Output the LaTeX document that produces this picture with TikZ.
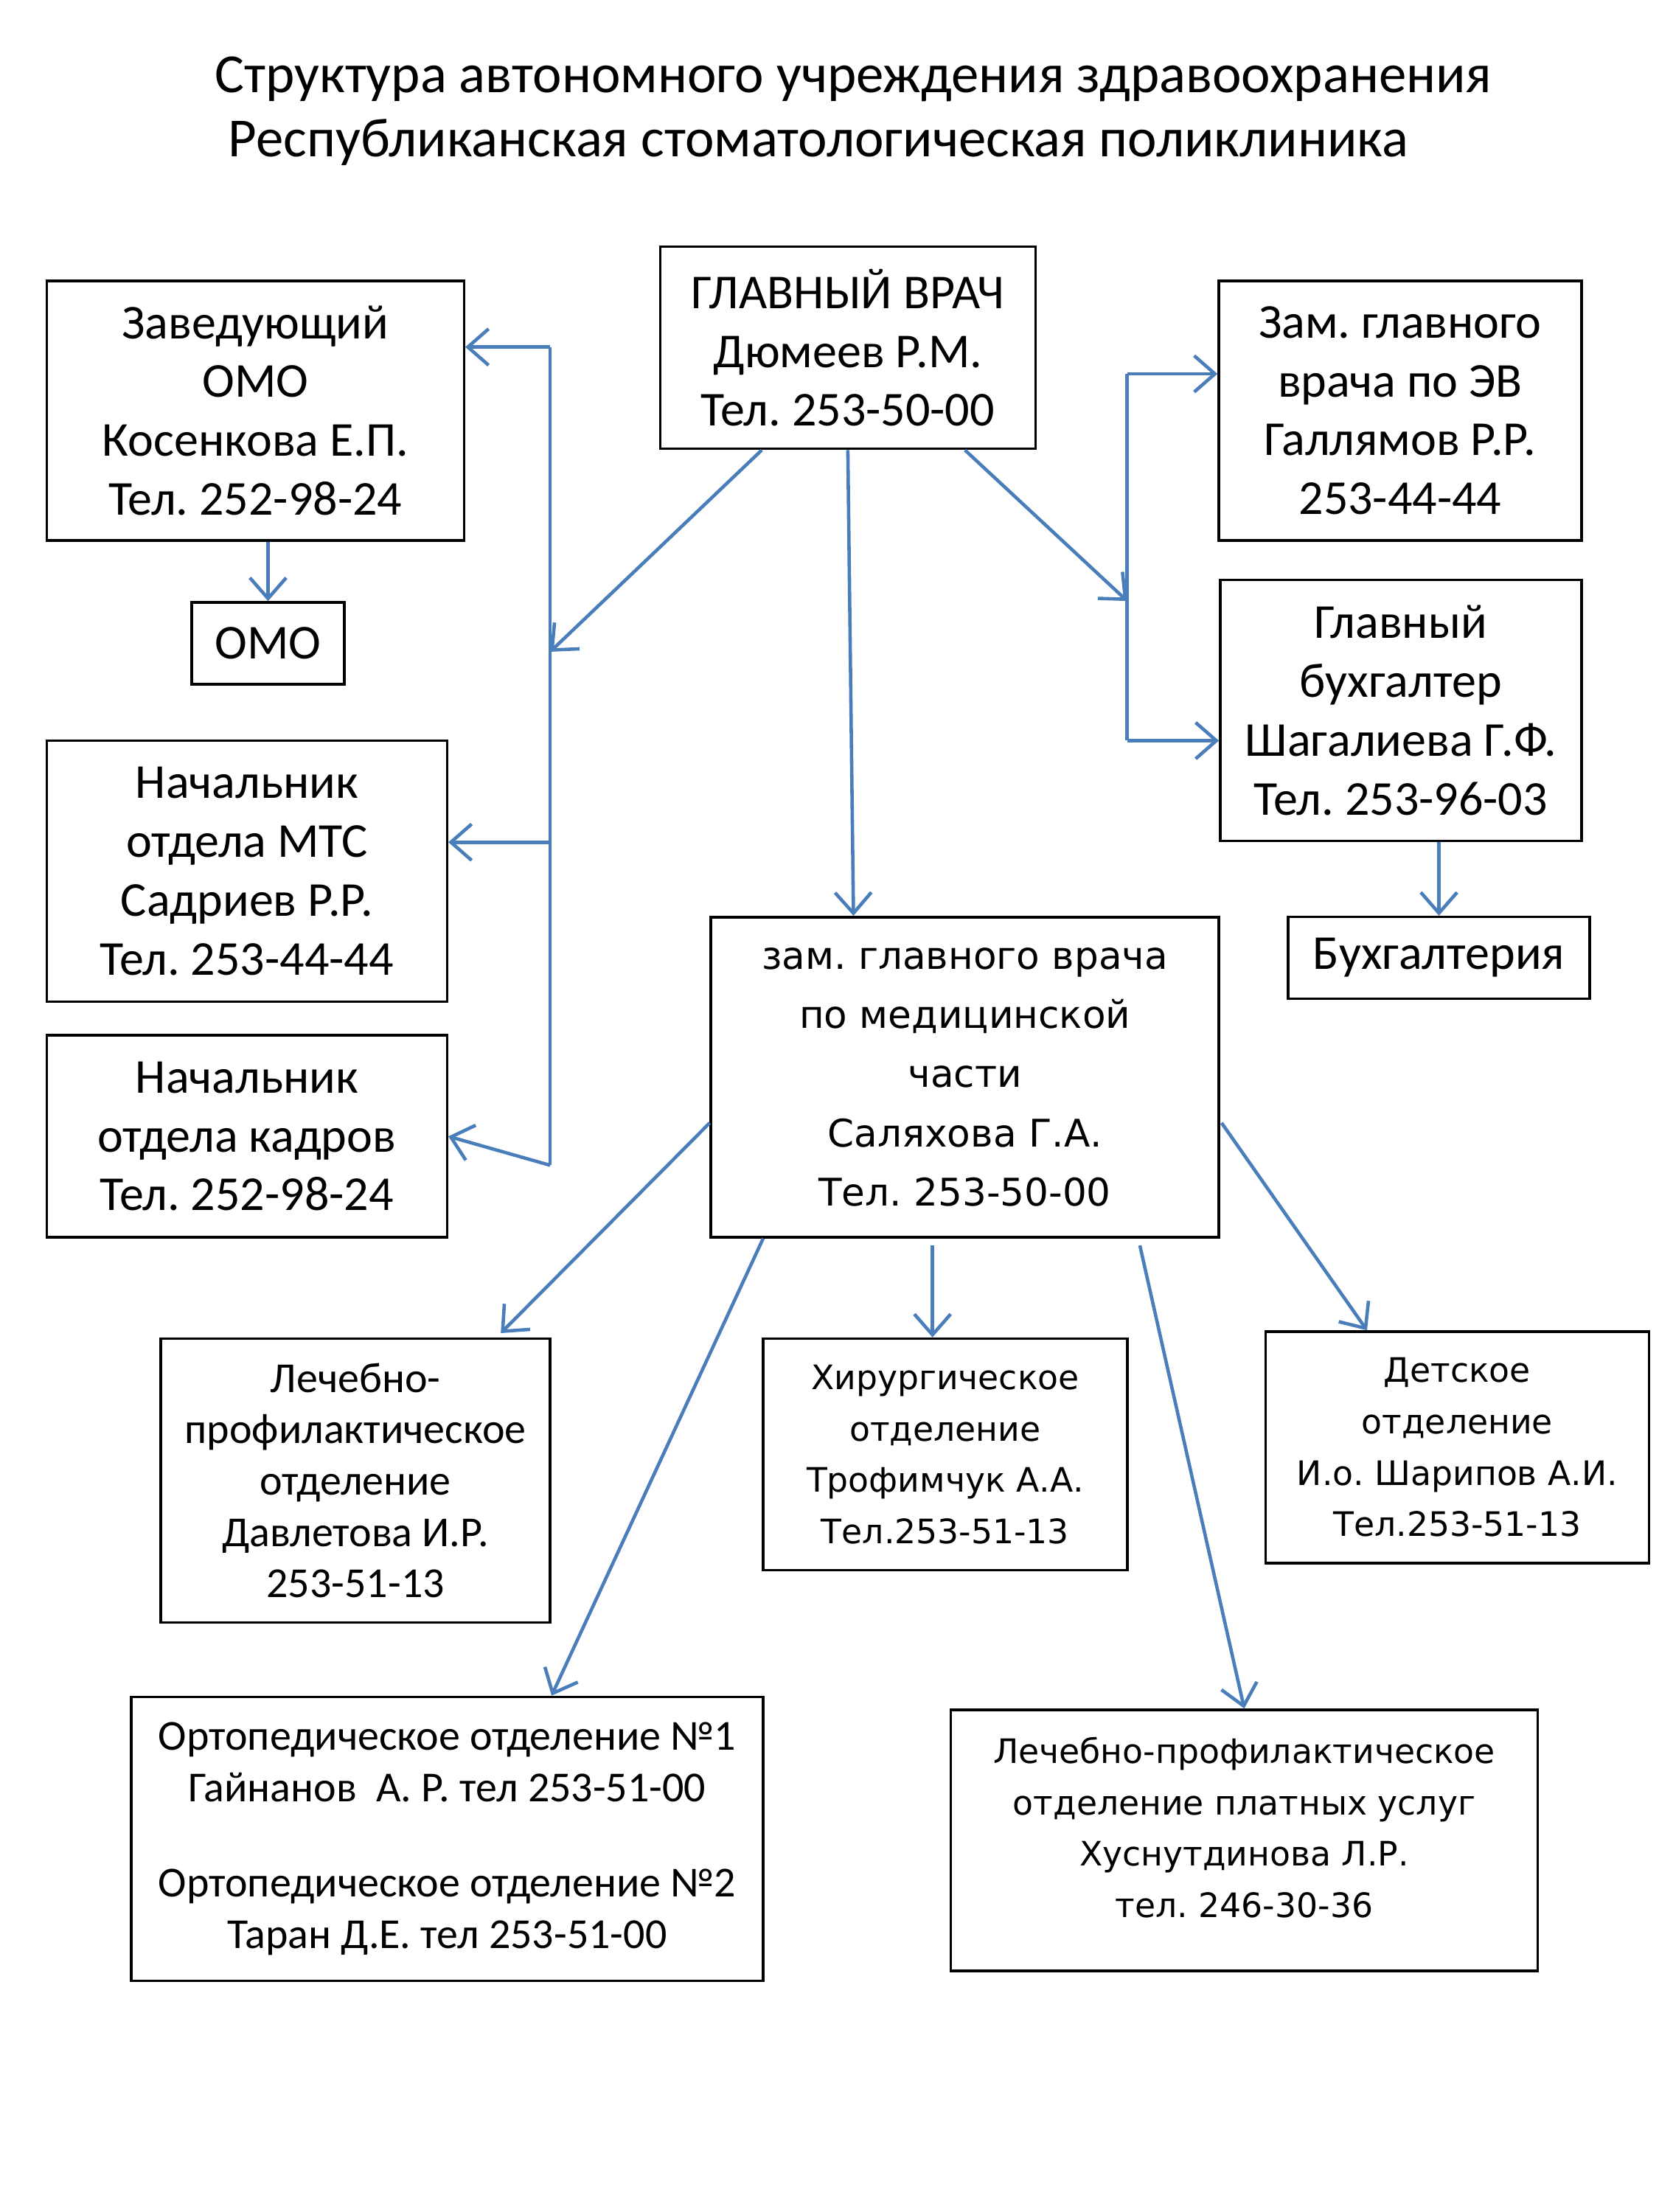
\documentclass[tikz,border=0pt]{standalone}
\usepackage{fontspec}
\setmainfont{Carlito}
\newfontfamily\widefont{DejaVu Sans}
\usetikzlibrary{positioning,arrows.meta,calc}
\definecolor{linkblue}{RGB}{74,126,187}
\frenchspacing

\begin{document}
\begin{tikzpicture}[
    x=0.01913cm, y=-0.01913cm,
    box/.style={draw, line width=1pt, inner sep=0pt, align=center,
                font=\fontsize{18.8}{22.7}\selectfont},
    wbox/.style={box, font=\widefont\fontsize{14.7}{22.8}\selectfont},
    sbox/.style={box, font=\fontsize{16.5}{19.8}\selectfont},
    swbox/.style={box, font=\widefont\fontsize{13}{19.8}\selectfont},
    link/.style={linkblue, line width=1.3pt},
    arr/.style={link, -{Straight Barb[length=8pt,width=14pt]}},
]
  \fill[white] (0,0) rectangle (1176,1568);
  \useasboundingbox (0,0) rectangle (1176,1568);

  % title
  \node[font=\fontsize{21.3}{25}\selectfont] (title1) at (605,56)
    {Структура автономного учреждения здравоохранения};
  \node[font=\fontsize{21.3}{25}\selectfont] (title2) at (580,101)
    {Республиканская стоматологическая поликлиника};

  % top level
  \node[box, minimum width=5.09cm, minimum height=2.74cm] (chief) at (601,246.5)
    {ГЛАВНЫЙ ВРАЧ\\Дюмеев Р.М.\\Тел. 253-50-00};

  % left column
  \node[box, minimum width=5.66cm, minimum height=3.52cm] (zavomo) at (181,291)
    {Заведующий\\ОМО\\Косенкова Е.П.\\Тел. 252-98-24};
  \node[box, minimum width=2.07cm, minimum height=1.11cm] (omo) at (190,456) {ОМО};
  \node[box, minimum width=5.43cm, minimum height=3.54cm] (mts) at (175,617.5)
    {Начальник\\отдела МТС\\Садриев Р.Р.\\Тел. 253-44-44};
  \node[box, minimum width=5.43cm, minimum height=2.74cm] (kadr) at (175,805.5)
    {Начальник\\отдела кадров\\Тел. 252-98-24};

  % right column
  \node[box, minimum width=4.92cm, minimum height=3.52cm] (zamev) at (992.5,291)
    {Зам. главного\\врача по ЭВ\\Галлямов Р.Р.\\253-44-44};
  \node[box, minimum width=4.90cm, minimum height=3.54cm] (buh) at (993,503.5)
    {Главный\\бухгалтер\\Шагалиева Г.Ф.\\Тел. 253-96-03};
  \node[box, minimum width=4.09cm, minimum height=1.11cm] (buhg) at (1020,679)
    {Бухгалтерия};

  % medical deputy and departments
  \node[wbox, minimum width=6.89cm, minimum height=4.34cm] (zammed) at (684,763.5)
    {зам. главного врача\\по медицинской\\части\\Саляхова Г.А.\\Тел. 253-50-00};
  \node[sbox, minimum width=5.28cm, minimum height=3.85cm] (lpo) at (252,1049.5)
    {Лечебно-\\профилактическое\\отделение\\Давлетова И.Р.\\253-51-13};
  \node[swbox, minimum width=4.94cm, minimum height=3.14cm] (hir) at (670,1031)
    {Хирургическое\\отделение\\Трофимчук А.А.\\Тел.253-51-13};
  \node[swbox, minimum width=5.20cm, minimum height=3.14cm] (det) at (1033,1026)
    {Детское\\отделение\\И.о. Шарипов А.И.\\Тел.253-51-13};
  \node[sbox, minimum width=8.57cm, minimum height=3.85cm] (orto) at (317,1303.5)
    {Ортопедическое отделение №1\\Гайнанов\ \ А. Р. тел 253-51-00\\[17pt]
     Ортопедическое отделение №2\\Таран Д.Е. тел 253-51-00};
  \node[swbox, minimum width=7.96cm, minimum height=3.54cm, text depth=10pt] (plat)
    at (882,1304.5)
    {Лечебно-профилактическое\\отделение платных услуг\\Хуснутдинова Л.Р.\\тел. 246-30-36};

  % trunks
  \coordinate (ltop) at (390,246);
  \coordinate (lmid) at (390,462);
  \coordinate (lmts) at (390,597);
  \coordinate (lbot) at (390,826);
  \coordinate (rtop) at (799,265);
  \coordinate (rmid) at (799,426);
  \coordinate (rbot) at (799,525);
  \draw[link] (ltop) -- (lbot);
  \draw[link] (rtop) -- (rbot);

  % connectors
  \draw[arr] (ltop) -- (ltop -| zavomo.east);
  \draw[arr] (lmts) -- (lmts -| mts.east);
  \draw[arr] (lbot) -- (kadr.east);
  \draw[arr] ($(chief.south)+(-61,0)$) -- (lmid);
  \draw[arr] (zavomo.south -| omo.north) -- (omo.north);
  \draw[arr] (chief.south) -- ($(zammed.north)+(-79,0)$);
  \draw[arr] ($(chief.south)+(83,0)$) -- (rmid);
  \draw[arr] (rtop) -- (rtop -| zamev.west);
  \draw[arr] (rbot) -- (rbot -| buh.west);
  \draw[arr] (buh.south -| buhg.north) -- (buhg.north);
  \draw[arr] ($(zammed.west)+(0,32.5)$) -- ($(lpo.north)+(103,-3)$);
  \draw[arr] ($(zammed.south)+(-143,0)$) -- ($(orto.north)+(74,0)$);
  \draw[arr] ($(zammed.south)+(-23,5)$) -- ($(hir.north)+(-9,0)$);
  \draw[arr] ($(zammed.south)+(124,5)$) -- (plat.north);
  \draw[arr] ($(zammed.east)+(1,32.5)$) -- ($(det.north)+(-64,0)$);
\end{tikzpicture}
\end{document}
